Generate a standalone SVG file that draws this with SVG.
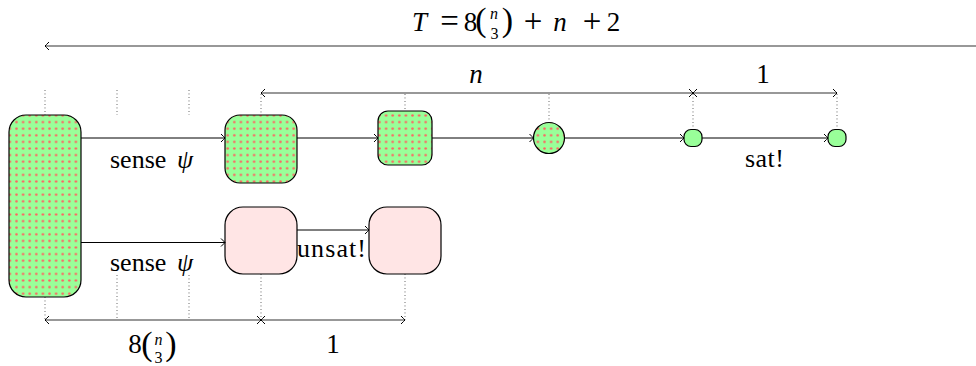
<svg xmlns="http://www.w3.org/2000/svg" width="976" height="366" viewBox="0 0 976 366">
<style>
.t{font-size:27px;fill:#000}
.m{text-anchor:middle}
.i{font-style:italic}
.s{font-size:16px}
.p{font-size:34px}
.op{font-size:33px}
.node{stroke:#000;stroke-width:1.2}
.g{fill:url(#dots)}
.pk{fill:#ffe5e5}
.sg{fill:#99ff99}
.dot{stroke:#444;stroke-width:0.9;stroke-dasharray:0.9 2.6;fill:none}
.arr{stroke:#000;stroke-width:1;fill:none;marker-end:url(#to)}
.span{stroke:#333;stroke-width:1.1;fill:none;marker-start:url(#to);marker-end:url(#to)}
</style>
<defs>
<pattern id="dots" patternUnits="userSpaceOnUse" width="6.6" height="6.6">
<rect width="6.6" height="6.6" fill="#99ff99"/>
<circle cx="3.3" cy="3.3" r="1.25" fill="#ff6262"/>
</pattern>
<marker id="to" viewBox="-6 -6 8 12" markerWidth="8" markerHeight="12" refX="0" refY="0" orient="auto-start-reverse" markerUnits="userSpaceOnUse">
<path d="M-4,-4 Q-1,-1 0,0 Q-1,1 -4,4" fill="none" stroke="#000" stroke-width="1"/>
</marker>
</defs>

<g id="guides">
<line class="dot" x1="45" y1="90" x2="45" y2="115"/>
<line class="dot" x1="117" y1="90" x2="117" y2="115"/>
<line class="dot" x1="189" y1="90" x2="189" y2="115"/>
<line class="dot" x1="261" y1="94" x2="261" y2="115"/>
<line class="dot" x1="405" y1="94" x2="405" y2="111"/>
<line class="dot" x1="549" y1="94" x2="549" y2="122"/>
<line class="dot" x1="693" y1="94" x2="693" y2="129"/>
<line class="dot" x1="837" y1="94" x2="837" y2="129"/>
<line class="dot" x1="45" y1="297" x2="45" y2="320"/>
<line class="dot" x1="117" y1="275" x2="117" y2="320"/>
<line class="dot" x1="189" y1="275" x2="189" y2="320"/>
<line class="dot" x1="261" y1="274" x2="261" y2="320"/>
<line class="dot" x1="405" y1="274" x2="405" y2="320"/>
</g>

<g id="spans">
<line class="span" x1="45" y1="46" x2="980" y2="46"/>
<line class="span" x1="261" y1="93" x2="693" y2="93"/>
<line class="span" x1="693" y1="93" x2="837" y2="93"/>
<line class="span" x1="45" y1="320" x2="261" y2="320"/>
<line class="span" x1="261" y1="320" x2="405" y2="320"/>
</g>

<g id="n-start"><rect class="node g" x="9" y="115" width="72" height="182" rx="17"/></g>
<g id="n-top1"><rect class="node g" x="225" y="115" width="72" height="68" rx="15"/></g>
<g id="n-top2"><rect class="node g" x="378" y="111" width="54" height="54" rx="10"/></g>
<g id="n-top3"><circle class="node g" cx="549" cy="138" r="15.5"/></g>
<g id="n-top4"><rect class="node sg" x="684" y="129.5" width="18" height="17" rx="7"/></g>
<g id="n-top5"><rect class="node sg" x="828" y="129.5" width="18" height="17" rx="7"/></g>
<g id="n-bot1"><rect class="node pk" x="225" y="207" width="72" height="67" rx="18"/></g>
<g id="n-bot2"><rect class="node pk" x="369" y="207" width="72" height="67" rx="18"/></g>

<g id="connectors">
<line class="arr" x1="81" y1="138" x2="225" y2="138"/>
<line class="arr" x1="297" y1="138" x2="378" y2="138"/>
<line class="arr" x1="432" y1="138" x2="533.5" y2="138"/>
<line class="arr" x1="564.5" y1="138" x2="684" y2="138"/>
<line class="arr" x1="702" y1="138" x2="828" y2="138"/>
<line class="arr" x1="81" y1="242.5" x2="225" y2="242.5"/>
<line class="arr" x1="297" y1="230" x2="369" y2="230"/>
</g>

<g id="labels" font-family="'Liberation Serif', 'DejaVu Serif', serif">
<text class="t" x="110" y="168" style="font-size:26px">sense <tspan class="i" x="177">ψ</tspan></text>
<text class="t" x="110" y="271" style="font-size:26px">sense <tspan class="i" x="177">ψ</tspan></text>
<text class="t" x="297" y="257" style="font-size:26px" textLength="69" lengthAdjust="spacing">unsat!</text>
<text class="t" x="745" y="167" style="font-size:26px" textLength="39" lengthAdjust="spacing">sat!</text>
<text class="t m i" x="476" y="83">n</text>
<text class="t m" x="763" y="83">1</text>
<text class="t m" x="333" y="353">1</text>

<text class="t i" x="412" y="31">T</text>
<text class="t m op" x="449.5" y="32">=</text>
<text class="t m" x="470.5" y="31">8</text>
<text class="t m p" x="481" y="31">(</text>
<text class="t m i s" x="494" y="19">n</text>
<text class="t m s" x="494.5" y="39">3</text>
<text class="t m p" x="507.5" y="31">)</text>
<text class="t m op" x="533" y="32">+</text>
<text class="t m i" x="560" y="31">n</text>
<text class="t m op" x="592" y="32">+</text>
<text class="t m" x="613.5" y="31">2</text>

<text class="t m" x="135" y="353">8</text>
<text class="t m p" x="147" y="355">(</text>
<text class="t m i s" x="158.5" y="345">n</text>
<text class="t m s" x="158.5" y="363">3</text>
<text class="t m p" x="171" y="355">)</text>
</g>
</svg>
